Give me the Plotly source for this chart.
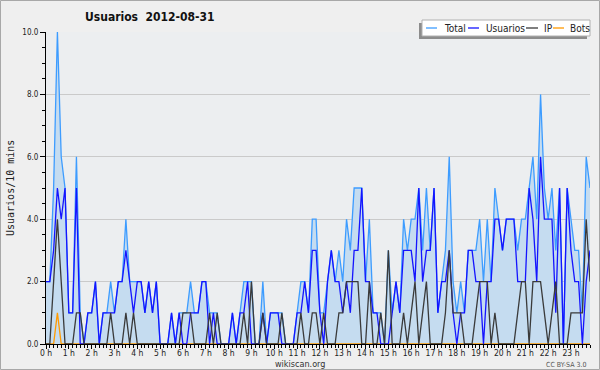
import plotly.graph_objects as go

# ---- data (10-minute slots, 0 h .. 23 h 50) ----
total = [2, 2, 5, 10, 6, 5, 1, 1, 6, 1, 0, 1, 1, 2, 0, 1, 1, 2, 1, 2, 2, 4, 2, 2,
         2, 2, 1, 2, 1, 2, 0, 0, 0, 1, 0, 1, 1, 1, 2, 1, 1, 2, 2, 1, 1, 1, 0, 0,
         0, 1, 0, 1, 2, 2, 2, 0, 0, 2, 0, 1, 1, 1, 1, 0, 0, 0, 1, 2, 2, 1, 4, 4,
         1, 1, 2, 3, 2, 3, 2, 4, 3, 5, 5, 5, 2, 4, 1, 1, 1, 0, 3, 1, 2, 1, 4, 3,
         4, 4, 5, 3, 5, 3, 5, 1, 2, 3, 6, 2, 1, 2, 1, 3, 3, 3, 4, 2, 4, 2, 5, 4,
         3, 4, 4, 4, 3, 4, 4, 5, 6, 4, 8, 5, 4, 5, 3, 5, 0, 5, 4, 3, 3, 1, 6, 5]
usuarios = [2, 2, 3, 5, 4, 5, 1, 1, 5, 0, 0, 1, 1, 2, 0, 1, 1, 1, 1, 2, 2, 3, 2, 1,
            2, 2, 1, 2, 1, 2, 0, 0, 0, 1, 0, 1, 0, 0, 1, 1, 1, 2, 2, 0, 1, 0, 0, 0,
            0, 1, 0, 1, 1, 2, 0, 0, 0, 1, 0, 1, 1, 1, 0, 0, 0, 0, 1, 1, 2, 1, 3, 3,
            1, 0, 2, 3, 2, 2, 1, 2, 1, 3, 3, 5, 2, 2, 1, 1, 0, 0, 0, 1, 2, 1, 3, 3,
            3, 2, 5, 2, 3, 3, 5, 1, 2, 2, 3, 1, 0, 1, 1, 3, 3, 2, 2, 0, 2, 2, 4, 4,
            3, 4, 4, 4, 2, 2, 2, 5, 4, 2, 6, 4, 4, 4, 1, 5, 0, 5, 3, 2, 2, 0, 2, 3]
ip = [0, 0, 2, 4, 2, 0, 0, 0, 1, 1, 0, 0, 0, 0, 0, 0, 0, 1, 0, 0, 0, 1, 0, 1,
      0, 0, 0, 0, 0, 0, 0, 0, 0, 0, 0, 0, 1, 1, 1, 0, 0, 0, 0, 1, 0, 1, 0, 0,
      0, 0, 0, 0, 1, 0, 2, 0, 0, 1, 0, 0, 0, 0, 1, 0, 0, 0, 0, 1, 0, 0, 1, 1,
      0, 1, 0, 0, 0, 1, 1, 2, 2, 2, 2, 0, 0, 2, 0, 0, 1, 0, 3, 0, 0, 0, 1, 0,
      1, 2, 0, 1, 2, 0, 0, 0, 0, 1, 3, 1, 1, 1, 0, 0, 0, 1, 2, 2, 2, 0, 1, 0,
      0, 0, 0, 0, 1, 2, 2, 0, 2, 2, 2, 1, 0, 1, 2, 0, 0, 0, 1, 1, 1, 1, 4, 2]
bots = [0, 0, 0, 1] + [0] * 140

slots = list(range(len(total)))
hour_ticks = list(range(0, 144, 6))
hour_labels = [f"{h} h" for h in range(24)]
y_ticks = [0, 2, 4, 6, 8, 10]
y_labels = ["0.0", "2.0", "4.0", "6.0", "8.0", "10.0"]

C_TOTAL = "#3d9cff"
C_FILL = "#c5dcf0"
C_USU = "#1414ff"
C_IP = "#3a3a3a"
C_BOTS = "#ff9a00"
FONT = "DejaVu Sans Condensed, Liberation Sans Narrow, DejaVu Sans"

fig = go.Figure()
fig.add_trace(go.Scatter(x=slots, y=total, mode="lines", name="Total",
                         line=dict(color=C_TOTAL, width=1.3), fill="tozeroy",
                         fillcolor=C_FILL))
fig.add_trace(go.Scatter(x=slots, y=bots, mode="lines", name="Bots",
                         line=dict(color=C_BOTS, width=1.3)))
fig.add_trace(go.Scatter(x=slots, y=usuarios, mode="lines", name="Usuarios",
                         line=dict(color=C_USU, width=1.3)))
fig.add_trace(go.Scatter(x=slots, y=ip, mode="lines", name="IP",
                         line=dict(color=C_IP, width=1.3)))

W, H = 600, 370
L, R, T, B = 46, 10, 32, 26
pw, ph = W - L - R, H - T - B


def px(x):
    return (x - L) / pw


def py(y):
    return (H - B - y) / ph


shapes = []
# outer border
shapes.append(dict(type="rect", xref="paper", yref="paper",
                   x0=px(0.5), x1=px(W - 0.5), y0=py(H - 0.5), y1=py(0.5),
                   line=dict(color="#a8a8a8", width=1), layer="below"))
# legend shadow and box
shapes.append(dict(type="rect", xref="paper", yref="paper",
                   x0=px(419), x1=px(587), y0=py(39), y1=py(23),
                   fillcolor="#8c8c8c", line=dict(width=0), layer="above"))
shapes.append(dict(type="rect", xref="paper", yref="paper",
                   x0=px(422), x1=px(590), y0=py(36), y1=py(20),
                   fillcolor="white", line=dict(color="#b0b0b0", width=1),
                   layer="above"))
legend_items = [("Total", C_TOTAL, 426, 437, 442),
                ("Usuarios", C_USU, 468, 479, 484),
                ("IP", C_IP, 526, 538, 542),
                ("Bots", C_BOTS, 553, 564, 568)]
annotations = []
for name, col, x0, x1, tx in legend_items:
    shapes.append(dict(type="line", xref="paper", yref="paper",
                       x0=px(x0), x1=px(x1), y0=py(28), y1=py(28),
                       line=dict(color=col, width=1.3), layer="above"))
    annotations.append(dict(text=name, xref="paper", yref="paper",
                            x=px(tx), y=py(28), xanchor="left", yanchor="middle",
                            showarrow=False,
                            font=dict(family=FONT, size=10, color="#222")))

annotations.append(dict(text="wikiscan.org", xref="paper", yref="paper",
                        x=px(300), y=py(364), xanchor="center", yanchor="middle",
                        showarrow=False, font=dict(family=FONT, size=9, color="#333")))
annotations.append(dict(text="CC BY-SA 3.0", xref="paper", yref="paper",
                        x=px(588), y=py(364.5), xanchor="right", yanchor="middle",
                        showarrow=False, font=dict(family=FONT, size=7, color="#555")))
annotations.append(dict(text="Usuarios/10 mins", xref="paper", yref="paper",
                        x=px(10), y=py(188), xanchor="center", yanchor="middle",
                        textangle=-90, showarrow=False,
                        font=dict(family="DejaVu Sans Mono", size=10, color="#222")))

fig.update_layout(
    width=W, height=H,
    margin=dict(l=L, r=R, t=T, b=B, pad=0, autoexpand=False),
    paper_bgcolor="#efefef",
    plot_bgcolor="#eceef0",
    showlegend=False,
    title=dict(text="Usuarios\u00a0\u00a02012-08-31", x=85 / W, xanchor="left",
               xref="container", y=1 - 17 / H, yref="container", yanchor="middle",
               font=dict(family=FONT, size=12, color="#111", weight="bold")),
    shapes=shapes,
    annotations=annotations,
)
fig.update_xaxes(range=[0, 143], tickmode="array", tickvals=hour_ticks,
                 ticktext=hour_labels, ticks="outside", ticklen=4, tickwidth=1,
                 tickcolor="black", showgrid=False, zeroline=False,
                 showline=True, linecolor="black", linewidth=1, automargin=False,
                 ticklabelstandoff=-3,
                 tickfont=dict(family=FONT, size=8.5, color="#222"),
                 minor=dict(dtick=1, tick0=0, ticks="outside", ticklen=3,
                            tickcolor="black", showgrid=False))
fig.update_yaxes(range=[0, 10], tickmode="array", tickvals=y_ticks,
                 ticktext=y_labels, ticks="outside", ticklen=5, tickwidth=1,
                 tickcolor="black", showgrid=True, gridcolor="#cacaca",
                 gridwidth=1, zeroline=False, showline=True, linecolor="black",
                 linewidth=1, automargin=False,
                 tickfont=dict(family=FONT, size=8, color="#222"),
                 minor=dict(dtick=0.5, tick0=0, ticks="outside", ticklen=3,
                            tickcolor="black", showgrid=False))

fig.write_html("out.html", config={"displayModeBar": False},
               post_script="document.body.style.margin='0px';"
                           "document.body.style.overflow='hidden';")
